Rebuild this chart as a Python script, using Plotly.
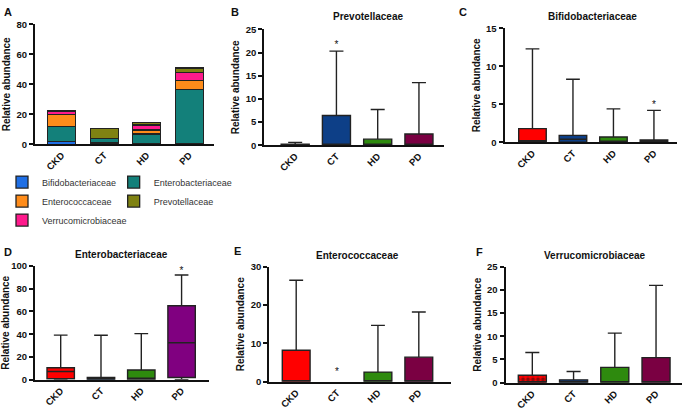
import plotly.graph_objects as go

W, H = 685, 411
groups = ['CKD', 'CT', 'HD', 'PD']

# Panel A stacked means
stack_bifido = [1.9, 0.9, 0.7, 0.3]
stack_entero = [9.8, 2.8, 6.2, 36.3]
stack_enteroc = [8.3, 0.0, 2.6, 6.1]
stack_verruc = [1.7, 0.0, 3.3, 5.4]
stack_prevot = [0.4, 6.9, 1.7, 2.9]

# Box panels: q1, median, q3, upper whisker
prev_q1 = [0, 0, 0, 0]; prev_med = [0, 0, 0, 0]; prev_q3 = [0.2, 6.4, 1.3, 2.4]; prev_hi = [0.6, 20.3, 7.7, 13.5]
bifi_q1 = [0, 0, 0, 0]; bifi_med = [0.2, 0.4, 0, 0]; bifi_q3 = [1.8, 0.9, 0.7, 0.3]; bifi_hi = [12.3, 8.3, 4.4, 4.2]
ente_q1 = [0.8, 0, 0.4, 2]; ente_med = [7.2, 1, 1.4, 32.5]; ente_q3 = [10.5, 2, 8.5, 65]; ente_hi = [39.2, 39, 40.5, 92]
ecoc_q1 = [0, 0, 0, 0]; ecoc_med = [0, 0, 0, 0]; ecoc_q3 = [8.2, 0, 2.5, 6.4]; ecoc_hi = [26.5, 0, 14.7, 18.2]
verr_q1 = [0, 0, 0, 0]; verr_med = [0, 0, 0, 0]; verr_q3 = [1.6, 0.6, 3.3, 5.4]; verr_hi = [6.5, 2.4, 10.7, 21]

# significance stars: (group, y)
prev_star = ('CT', 21.6)
bifi_star = ('PD', 4.9)
ente_star = ('PD', 95)
ecoc_star = ('CT', 2.4)

RED, NAVY, GREEN, MAROON, PURPLE = '#FF0000', '#0D3F87', '#2E8A0E', '#7A0042', '#800080'
stack_colors = {'Bifidobacteriaceae': '#1F6FE5', 'Enterobacteriaceae': '#13807A',
                'Enterococcaceae': '#FF8C1A', 'Prevotellaceae': '#7F8212',
                'Verrucomicrobiaceae': '#FF1A8C'}

FONT = 'Liberation Sans, Arial, sans-serif'
fig = go.Figure()

# Panel A
stack_vals = {'Bifidobacteriaceae': stack_bifido, 'Enterobacteriaceae': stack_entero,
              'Enterococcaceae': stack_enteroc, 'Verrucomicrobiaceae': stack_verruc,
              'Prevotellaceae': stack_prevot}
legend_of = {'Bifidobacteriaceae': 'legend', 'Enterococcaceae': 'legend', 'Verrucomicrobiaceae': 'legend',
             'Enterobacteriaceae': 'legend2', 'Prevotellaceae': 'legend2'}
rank = {'Bifidobacteriaceae': 1, 'Enterococcaceae': 2, 'Verrucomicrobiaceae': 3,
        'Enterobacteriaceae': 1, 'Prevotellaceae': 2}
for name in ['Bifidobacteriaceae', 'Enterobacteriaceae', 'Enterococcaceae', 'Verrucomicrobiaceae', 'Prevotellaceae']:
    fig.add_trace(go.Bar(x=groups, y=stack_vals[name], name=name, width=0.66,
                         marker=dict(color=stack_colors[name], line=dict(color='#222', width=1.3)),
                         legend=legend_of[name], legendrank=rank[name],
                         xaxis='x', yaxis='y'))

def add_boxes(n, q1, med, q3, hi, colors, skip=()):
    for i, g in enumerate(groups):
        if g in skip:
            continue
        fig.add_trace(go.Box(x=[g], q1=[q1[i]], median=[med[i]], q3=[q3[i]],
                             lowerfence=[0], upperfence=[hi[i]], width=0.68, whiskerwidth=0.5,
                             fillcolor=colors[i], line=dict(color='#222', width=1.4),
                             hoverinfo='skip', showlegend=False, xaxis='x%d' % n, yaxis='y%d' % n))

add_boxes(2, prev_q1, prev_med, prev_q3, prev_hi, [RED, NAVY, GREEN, MAROON])
add_boxes(3, bifi_q1, bifi_med, bifi_q3, bifi_hi, [RED, NAVY, GREEN, PURPLE])
add_boxes(4, ente_q1, ente_med, ente_q3, ente_hi, [RED, NAVY, GREEN, PURPLE])
add_boxes(5, ecoc_q1, ecoc_med, ecoc_q3, ecoc_hi, [RED, NAVY, GREEN, MAROON], skip=('CT',))
# F: checkered CKD
fig.add_trace(go.Bar(x=[groups[0]], y=[verr_q3[0]], width=0.68, showlegend=False,
                     marker=dict(color=RED, line=dict(width=0),
                                 pattern=dict(shape='.', fgcolor='#111', size=5, solidity=0.45)),
                     xaxis='x6', yaxis='y6'))
add_boxes(6, verr_q1, verr_med, verr_q3, verr_hi, ['rgba(0,0,0,0)', NAVY, GREEN, MAROON])

for n, st in [(2, prev_star), (3, bifi_star), (4, ente_star), (5, ecoc_star)]:
    fig.add_trace(go.Scatter(x=[st[0]], y=[st[1]], mode='text', text=['*'],
                             textfont=dict(size=10, color='#111111', family=FONT),
                             hoverinfo='skip', showlegend=False, xaxis='x%d' % n, yaxis='y%d' % n))

def px_x(a, b):
    return [a / W, b / W]

def px_y(top, bottom):
    return [1 - bottom / H, 1 - top / H]

panels = {
    1: dict(xd=px_x(33, 213), yd=px_y(19, 142), xr=[-0.63, 3.59], yr=[0, 80], dt=20),
    2: dict(xd=px_x(263, 443), yd=px_y(24, 143), xr=[-0.75, 3.6], yr=[0, 25], dt=5),
    3: dict(xd=px_x(504, 677), yd=px_y(23, 140), xr=[-0.69, 3.57], yr=[0, 15], dt=5),
    4: dict(xd=px_x(33, 208), yd=px_y(267, 384), xr=[-0.64, 3.69], yr=[0, 100], dt=20),
    5: dict(xd=px_x(268, 450), yd=px_y(268, 386), xr=[-0.66, 3.78], yr=[0, 30], dt=10),
    6: dict(xd=px_x(505, 682), yd=px_y(268, 387), xr=[-0.65, 3.63], yr=[0, 25], dt=5),
}

layout = dict(width=W, height=H, margin=dict(l=0, r=0, t=0, b=0),
              paper_bgcolor='white', plot_bgcolor='white',
              barmode='stack', boxmode='overlay',
              font=dict(family=FONT, color='#111'))
for n, p in panels.items():
    s = '' if n == 1 else str(n)
    layout['xaxis' + s] = dict(domain=p['xd'], range=p['xr'], type='category',
                               categoryorder='array', categoryarray=groups,
                               showline=True, linecolor='#111', linewidth=2, ticks='',
                               tickangle=-45, tickfont=dict(size=9.5, weight='bold', family=FONT),
                               showgrid=False, zeroline=False, anchor='y' + s, fixedrange=True)
    layout['yaxis' + s] = dict(domain=p['yd'], range=p['yr'], dtick=p['dt'], tick0=0,
                               showline=True, linecolor='#111', linewidth=2, ticks='outside',
                               ticklen=4, tickwidth=2, tickcolor='#111',
                               tickfont=dict(size=9.5, weight='bold', family=FONT),
                               title=dict(text='Relative abundance', font=dict(size=10, weight='bold', family=FONT), standoff=4),
                               showgrid=False, zeroline=False, anchor='x' + s)

layout['legend'] = dict(x=0, y=1 - 166 / H, xanchor='left', yanchor='top', bgcolor='rgba(0,0,0,0)',
                        font=dict(size=9, color='#333', family=FONT), tracegroupgap=0,
                        traceorder='normal', itemwidth=30)
layout['legend2'] = dict(x=112 / W, y=1 - 166 / H, xanchor='left', yanchor='top', bgcolor='rgba(0,0,0,0)',
                         font=dict(size=9, color='#333', family=FONT), tracegroupgap=0,
                         traceorder='normal', itemwidth=30)

ann = []
for letter, x, y in [('A', 6, 6), ('B', 234, 6), ('C', 462, 6), ('D', 6, 253), ('E', 236, 252), ('F', 479, 253)]:
    ann.append(dict(text='<b>%s</b>' % letter, x=x / W, y=1 - y / H, xref='paper', yref='paper',
                    showarrow=False, font=dict(size=11, family=FONT), xanchor='center', yanchor='middle'))
for t, x, y in [('Prevotellaceae', 367, 11), ('Bifidobacteriaceae', 592, 11), ('Enterobacteriaceae', 120, 255),
                ('Enterococcaceae', 357, 256), ('Verrucomicrobiaceae', 595, 256)]:
    ann.append(dict(text='<b>%s</b>' % t, x=x / W, y=1 - y / H, xref='paper', yref='paper',
                    showarrow=False, font=dict(size=10, family=FONT), xanchor='center', yanchor='middle'))
layout['annotations'] = ann

fig.update_layout(**layout)
fig.write_html('out.html', config={'displayModeBar': False},
               post_script="document.body.style.margin='0';document.body.style.overflow='hidden';")
